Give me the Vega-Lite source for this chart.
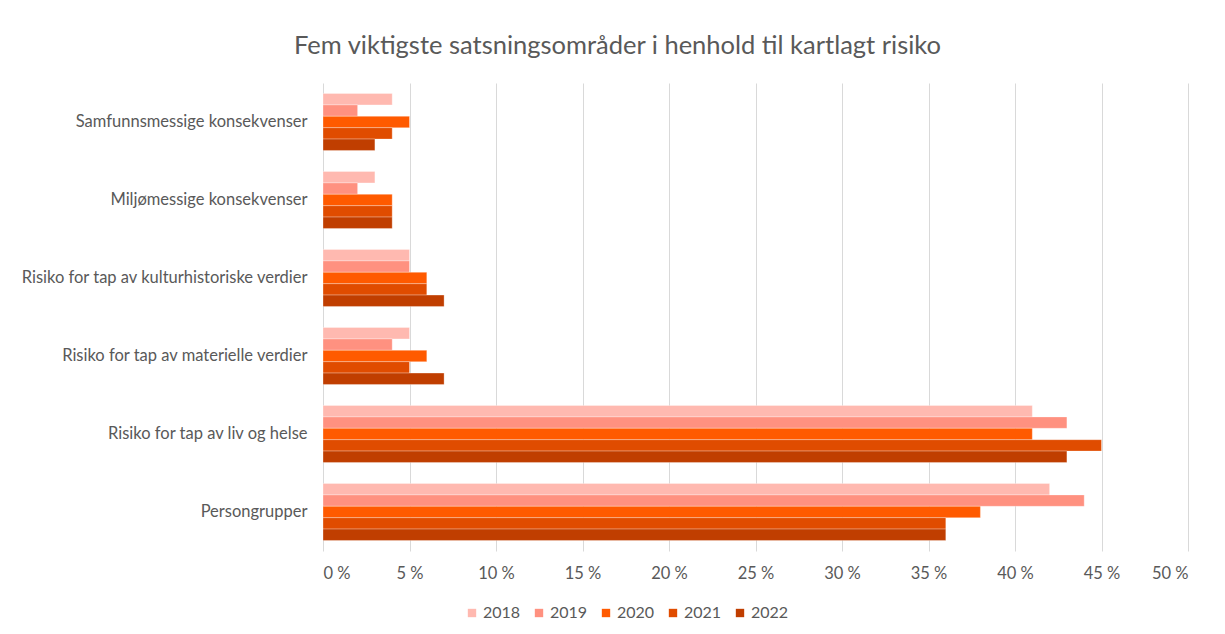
{
  "$schema": "https://vega.github.io/schema/vega-lite/v6.json",
  "width": 865,
  "height": 468,
  "autosize": {"type": "none"},
  "padding": {"left": 323, "top": 83, "right": 37, "bottom": 83},
  "background": "white",
  "title": {
    "text": "Fem viktigste satsningsområder i henhold til kartlagt risiko",
    "font": "Lato",
    "fontSize": 25.5,
    "fontWeight": "normal",
    "color": "#595959",
    "anchor": "middle",
    "frame": "group",
    "dx": -138,
    "offset": 24
  },
  "data": {
    "values": [
      {"Kategori": "Samfunnsmessige konsekvenser", "År": "2018", "Andel": 4},
      {"Kategori": "Samfunnsmessige konsekvenser", "År": "2019", "Andel": 2},
      {"Kategori": "Samfunnsmessige konsekvenser", "År": "2020", "Andel": 5},
      {"Kategori": "Samfunnsmessige konsekvenser", "År": "2021", "Andel": 4},
      {"Kategori": "Samfunnsmessige konsekvenser", "År": "2022", "Andel": 3},
      {"Kategori": "Miljømessige konsekvenser", "År": "2018", "Andel": 3},
      {"Kategori": "Miljømessige konsekvenser", "År": "2019", "Andel": 2},
      {"Kategori": "Miljømessige konsekvenser", "År": "2020", "Andel": 4},
      {"Kategori": "Miljømessige konsekvenser", "År": "2021", "Andel": 4},
      {"Kategori": "Miljømessige konsekvenser", "År": "2022", "Andel": 4},
      {"Kategori": "Risiko for tap av kulturhistoriske verdier", "År": "2018", "Andel": 5},
      {"Kategori": "Risiko for tap av kulturhistoriske verdier", "År": "2019", "Andel": 5},
      {"Kategori": "Risiko for tap av kulturhistoriske verdier", "År": "2020", "Andel": 6},
      {"Kategori": "Risiko for tap av kulturhistoriske verdier", "År": "2021", "Andel": 6},
      {"Kategori": "Risiko for tap av kulturhistoriske verdier", "År": "2022", "Andel": 7},
      {"Kategori": "Risiko for tap av materielle verdier", "År": "2018", "Andel": 5},
      {"Kategori": "Risiko for tap av materielle verdier", "År": "2019", "Andel": 4},
      {"Kategori": "Risiko for tap av materielle verdier", "År": "2020", "Andel": 6},
      {"Kategori": "Risiko for tap av materielle verdier", "År": "2021", "Andel": 5},
      {"Kategori": "Risiko for tap av materielle verdier", "År": "2022", "Andel": 7},
      {"Kategori": "Risiko for tap av liv og helse", "År": "2018", "Andel": 41},
      {"Kategori": "Risiko for tap av liv og helse", "År": "2019", "Andel": 43},
      {"Kategori": "Risiko for tap av liv og helse", "År": "2020", "Andel": 41},
      {"Kategori": "Risiko for tap av liv og helse", "År": "2021", "Andel": 45},
      {"Kategori": "Risiko for tap av liv og helse", "År": "2022", "Andel": 43},
      {"Kategori": "Persongrupper", "År": "2018", "Andel": 42},
      {"Kategori": "Persongrupper", "År": "2019", "Andel": 44},
      {"Kategori": "Persongrupper", "År": "2020", "Andel": 38},
      {"Kategori": "Persongrupper", "År": "2021", "Andel": 36},
      {"Kategori": "Persongrupper", "År": "2022", "Andel": 36}
    ]
  },
  "mark": {"type": "bar", "stroke": "white", "strokeWidth": 0.6, "strokeOpacity": 0.5},
  "encoding": {
    "y": {
      "field": "Kategori",
      "type": "nominal",
      "sort": null,
      "title": null,
      "scale": {"paddingInner": 0.27, "paddingOuter": 0.135},
      "axis": {
        "domain": false,
        "ticks": false,
        "labelFont": "Lato",
        "labelFontSize": 16.5,
        "labelColor": "#595959",
        "labelPadding": 16,
        "labelLimit": 400
      }
    },
    "yOffset": {"field": "År", "type": "nominal", "sort": ["2018", "2019", "2020", "2021", "2022"]},
    "x": {
      "field": "Andel",
      "type": "quantitative",
      "title": null,
      "scale": {"domain": [0, 50], "nice": false},
      "axis": {
        "values": [0, 5, 10, 15, 20, 25, 30, 35, 40, 45, 50],
        "labelExpr": "datum.value + ' %'",
        "domain": false,
        "ticks": false,
        "grid": true,
        "gridColor": "#d9d9d9",
        "gridWidth": 1,
        "labelFont": "Lato",
        "labelFontSize": 16.5,
        "labelColor": "#595959",
        "labelPadding": 14
      }
    },
    "color": {
      "field": "År",
      "type": "nominal",
      "title": null,
      "scale": {
        "domain": ["2018", "2019", "2020", "2021", "2022"],
        "range": ["#ffb9b0", "#ff9180", "#ff5a00", "#e04c00", "#c03e00"]
      },
      "legend": {
        "orient": "none",
        "direction": "horizontal",
        "legendX": 141,
        "legendY": 522,
        "symbolType": "square",
        "symbolSize": 70,
        "symbolStrokeWidth": 0,
        "labelFont": "Lato",
        "labelFontSize": 16,
        "labelColor": "#595959",
        "columnPadding": 10,
        "labelOffset": 3
      }
    }
  },
  "config": {"view": {"stroke": null}}
}
